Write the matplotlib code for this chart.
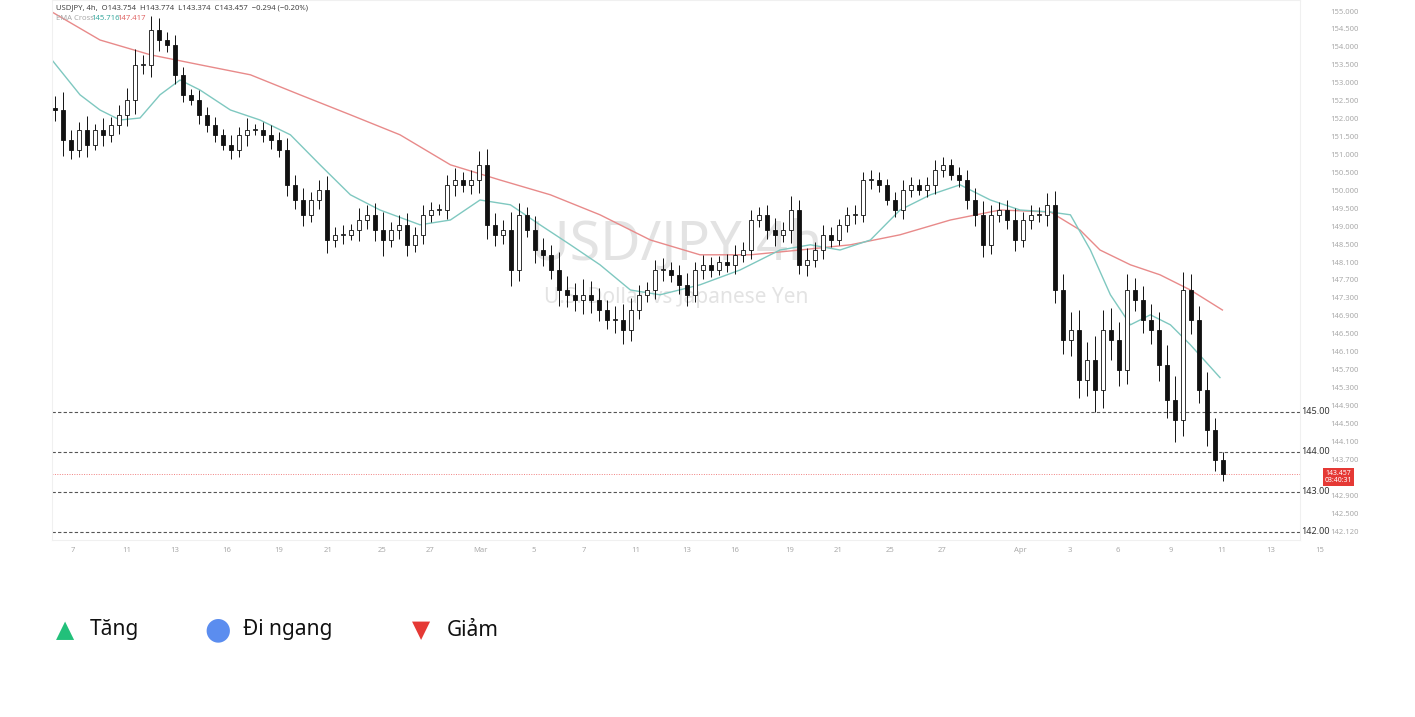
import matplotlib
matplotlib.use("Agg")
import matplotlib.pyplot as plt
from matplotlib.patches import Rectangle

# 4h closes
closes = [152.55, 151.80, 151.55, 152.05, 151.68, 152.05, 151.93, 152.18, 152.43, 152.80,
          153.68, 153.68, 154.55, 154.30, 154.18, 153.43, 152.93, 152.80, 152.43, 152.18,
          151.93, 151.68, 151.55, 151.93, 152.05, 152.05, 151.93, 151.80, 151.55, 150.68,
          150.30, 149.93, 150.30, 150.55, 149.30, 149.43, 149.43, 149.55, 149.80, 149.93,
          149.55, 149.30, 149.55, 149.68, 149.18, 149.43, 149.93, 150.05, 150.05, 150.68,
          150.80, 150.68, 150.80, 151.18, 149.68, 149.43, 149.55, 148.55, 149.93, 149.55,
          149.05, 148.93, 148.55, 148.05, 147.93, 147.80, 147.93, 147.80, 147.55, 147.30,
          147.30, 147.05, 147.55, 147.93, 148.05, 148.55, 148.55, 148.43, 148.18, 147.93,
          148.55, 148.68, 148.55, 148.75, 148.68, 148.93, 149.05, 149.80, 149.93, 149.55,
          149.43, 149.55, 150.05, 148.68, 148.80, 149.05, 149.43, 149.30, 149.68, 149.93,
          149.93, 150.80, 150.80, 150.68, 150.30, 150.05, 150.55, 150.68, 150.55, 150.68,
          151.05, 151.18, 150.93, 150.80, 150.30, 149.93, 149.18, 149.93, 150.05, 149.80,
          149.30, 149.80, 149.93, 149.93, 150.18, 148.05, 146.80, 147.05, 145.80, 146.30,
          145.55, 147.05, 146.80, 146.05, 148.05, 147.80, 147.30, 147.05, 146.18, 145.30,
          144.80, 148.05, 147.30, 145.55, 144.55, 143.80, 143.46]
wicks = [0.30, 0.45, 0.25, 0.20, 0.35, 0.15, 0.30, 0.20, 0.25, 0.30,
         0.40, 0.25, 0.35, 0.30, 0.20, 0.25, 0.20, 0.15, 0.25, 0.20,
         0.20, 0.15, 0.25, 0.20, 0.30, 0.15, 0.20, 0.25, 0.20, 0.30,
         0.25, 0.30, 0.20, 0.25, 0.35, 0.20, 0.25, 0.15, 0.30, 0.25,
         0.30, 0.45, 0.20, 0.25, 0.30, 0.20, 0.25, 0.20, 0.15, 0.25,
         0.30, 0.20, 0.25, 0.35, 0.40, 0.30, 0.25, 0.45, 0.30, 0.20,
         0.35, 0.30, 0.25, 0.45, 0.35, 0.30, 0.40, 0.35, 0.30, 0.25,
         0.35, 0.40, 0.30, 0.25, 0.20, 0.25, 0.30, 0.20, 0.25, 0.30,
         0.20, 0.25, 0.20, 0.15, 0.20, 0.25, 0.20, 0.25, 0.20, 0.25,
         0.30, 0.20, 0.35, 0.25, 0.30, 0.20, 0.25, 0.20, 0.15, 0.20,
         0.25, 0.20, 0.25, 0.20, 0.15, 0.20, 0.25, 0.20, 0.15, 0.20,
         0.25, 0.20, 0.15, 0.20, 0.25, 0.30, 0.35, 0.25, 0.20, 0.25,
         0.30, 0.20, 0.25, 0.20, 0.30, 0.35, 0.40, 0.45, 0.50, 0.45,
         0.60, 0.50, 0.55, 0.45, 0.40, 0.30, 0.35, 0.40, 0.45, 0.50,
         0.60, 0.45, 0.40, 0.35, 0.45, 0.30, 0.20]

ema_slow_idx = [-0.4, 5.6, 11.9, 18.1, 24.4, 30.6, 36.9, 43.1, 49.4, 55.6, 61.9, 68.1, 74.4,
                80.6, 86.9, 93.1, 99.4, 105.6, 111.9, 118.1, 124.4, 128.1, 130.6, 134.4,
                138.1, 141.9, 145.9]
ema_slow = [155.00, 154.30, 153.93, 153.68, 153.43, 152.93, 152.43, 151.93, 151.18, 150.80,
            150.43, 149.93, 149.30, 148.93, 148.93, 149.05, 149.18, 149.43, 149.80, 150.05,
            150.00, 149.55, 149.05, 148.68, 148.43, 148.05, 147.55]
ema_fast_idx = [-0.4, 3.1, 5.6, 8.1, 10.6, 13.1, 15.6, 18.1, 21.9, 25.6, 29.4, 33.1, 36.9,
                40.6, 45.6, 49.4, 53.1, 56.9, 60.6, 64.4, 68.1, 71.9, 75.6, 80.6, 85.6,
                90.6, 94.4, 98.1, 101.9, 105.6, 109.4, 113.1, 116.9, 120.6, 124.4, 126.9,
                129.4, 131.9, 134.4, 136.9, 139.4, 141.9, 145.6]
ema_fast = [153.80, 152.93, 152.55, 152.30, 152.35, 152.93, 153.30, 153.05, 152.55, 152.30,
            151.93, 151.18, 150.43, 150.05, 149.68, 149.80, 150.30, 150.18, 149.68, 149.18,
            148.68, 148.05, 147.93, 148.18, 148.55, 149.05, 149.18, 149.05, 149.30, 150.05,
            150.43, 150.68, 150.30, 150.05, 150.00, 149.93, 149.05, 147.93, 147.18, 147.43,
            147.18, 146.68, 145.86]

right_labels = ["155.000", "154.500", "154.000", "153.500", "153.000", "152.500", "152.000",
                "151.500", "151.000", "150.500", "150.000", "149.500", "149.000", "148.500",
                "148.100", "147.700", "147.300", "146.900", "146.500", "146.100", "145.700",
                "145.300", "144.900", "144.500", "144.100", "143.700", "143.457", "142.900",
                "142.500", "142.120"]
levels = [145.0, 144.0, 143.0, 142.0]
date_pos = [2.2, 8.9, 15.0, 21.4, 27.9, 34.1, 40.8, 46.9, 53.1, 59.8, 66.1, 72.6, 78.9, 85.0,
            91.8, 97.9, 104.4, 110.8, 120.6, 126.8, 132.8, 139.4, 145.8, 151.9, 158.1]
date_labels = ["7", "11", "13", "16", "19", "21", "25", "27", "Mar", "5", "7", "11", "13", "16",
               "19", "21", "25", "27", "Apr", "3", "6", "9", "11", "13", "15"]

plt.rcParams["font.family"] = "Noto Sans"
fig = plt.figure(figsize=(14.15, 7.17), dpi=100)
ax = fig.add_axes([52 / 1415, 1 - 540 / 717, 1248 / 1415, 540 / 717])
ax.set_xlim(-0.4, 155.6)
ax.set_ylim(141.8, 155.3)
for s in ax.spines.values():
    s.set_color("#f0f0f0")
ax.set_xticks([])
ax.set_yticks([])

ax.text(0.5, 0.545, "USD/JPY 4h", transform=ax.transAxes, ha="center", va="center",
        fontsize=40, color="#e3e3e3", zorder=0)
ax.text(0.5, 0.45, "U.S. Dollar vs Japanese Yen", transform=ax.transAxes, ha="center",
        va="center", fontsize=15, color="#e3e3e3", zorder=0)

for lv in levels:
    ax.axhline(lv, color="#555555", lw=0.8, ls=(0, (3, 2)))
    ax.text(1.001, lv, f"{lv:.2f}", transform=ax.get_yaxis_transform(), fontsize=6.5,
            fontweight="bold", color="#333333", va="center", clip_on=False)
ax.axhline(closes[-1], color="#f08080", lw=0.7, ls=(0, (1, 1.5)))

prev = closes[0] + 0.05
for i, c in enumerate(closes):
    o = prev
    hi = max(o, c) + wicks[i]
    lo = min(o, c) - wicks[i] * 0.9
    ax.vlines(i, lo, hi, color="#111111", lw=0.7, zorder=3)
    fill = "white" if c >= o else "#111111"
    ax.add_patch(Rectangle((i - 0.22, min(o, c)), 0.44, max(abs(c - o), 0.03),
                           facecolor=fill, edgecolor="#111111", lw=0.6, zorder=4))
    prev = c

ax.plot(ema_slow_idx, ema_slow, color="#e88a8a", lw=1.0, zorder=2)
ax.plot(ema_fast_idx, ema_fast, color="#7fc8c0", lw=1.0, zorder=2)

ax.text(0.003, 0.992, "USDJPY, 4h,  O143.754  H143.774  L143.374  C143.457  \u22120.294 (\u22120.20%)",
        transform=ax.transAxes, fontsize=5.5, color="#444444", va="top")
ax.text(0.003, 0.972, "EMA Cross", transform=ax.transAxes, fontsize=5.5, color="#aaaaaa", va="top")
ax.text(0.0315, 0.972, "145.716", transform=ax.transAxes, fontsize=5.5, color="#3aa99f", va="top")
ax.text(0.0525, 0.972, "147.417", transform=ax.transAxes, fontsize=5.5, color="#e06666", va="top")

step = (155.0 - 142.0) / (len(right_labels) - 1)
for k, lab in enumerate(right_labels):
    y = 155.0 - k * step
    if lab == "143.457":
        continue
    ax.text(1.024, y, lab, transform=ax.get_yaxis_transform(), fontsize=5.5,
            color="#aaaaaa", va="center", clip_on=False)
ax.text(1.02, closes[-1] - 0.08, "143.457\n03:40:31", transform=ax.get_yaxis_transform(),
        fontsize=5, color="white", va="center", linespacing=1.1, clip_on=False,
        bbox=dict(boxstyle="square,pad=0.25", fc="#e53935", ec="none"))

for p, lab in zip(date_pos, date_labels):
    ax.text(p, 141.62, lab, fontsize=5.5, color="#aaaaaa", ha="center", va="top", clip_on=False)

# legend row
sym = dict(family="DejaVu Sans", ha="center", va="center")
fig.text(65 / 1415, 1 - 630 / 717, "\u25B2", color="#22c07a", fontsize=17, **sym)
fig.text(90 / 1415, 1 - 630 / 717, "Tăng", fontsize=15, va="center", color="#111111")
fig.text(218 / 1415, 1 - 630 / 717, "\u25CF", color="#5b8def", fontsize=22, **sym)
fig.text(243 / 1415, 1 - 630 / 717, "Đi ngang", fontsize=15, va="center", color="#111111")
fig.text(421 / 1415, 1 - 630 / 717, "\u25BC", color="#e53935", fontsize=17, **sym)
fig.text(447 / 1415, 1 - 630 / 717, "Giảm", fontsize=15, va="center", color="#111111")

fig.savefig("out.png", dpi=100, facecolor="white")
